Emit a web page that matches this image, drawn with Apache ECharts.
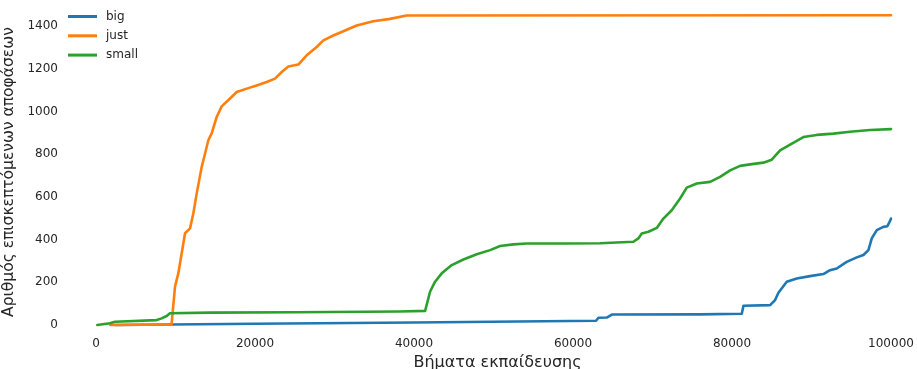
<!DOCTYPE html>
<html>
<head>
<meta charset="utf-8">
<script src="https://cdn.jsdelivr.net/npm/echarts@6/dist/echarts.min.js"></script>
<style>html,body{margin:0;padding:0;background:#fff;}#c{width:917px;height:369px;}</style>
</head>
<body>
<div id="c"></div>
<script>
const seriesNames = ['big', 'just', 'small'];
const xTicks = [0, 20000, 40000, 60000, 80000, 100000];
const yTicks = [0, 200, 400, 600, 800, 1000, 1200, 1400];

const bigSteps = [2400, 20000, 40000, 62900, 63200, 64250, 64880, 76000, 81230, 81440, 84790, 85420, 85840, 86890, 88140, 89820, 91490, 92330, 93170, 94430, 95690, 96530, 97160, 97580, 98210, 99040, 99540, 99880, 100000];
const bigValues = [0, 6, 12, 20, 34, 35, 49, 50, 53, 90, 93, 117, 151, 203, 218, 229, 239, 257, 265, 296, 317, 328, 351, 406, 445, 460, 463, 488, 499];

const justSteps = [1800, 9500, 9940, 10360, 10780, 11200, 11830, 12240, 12670, 13290, 13710, 14130, 14550, 15180, 15810, 16860, 17700, 18960, 20210, 21470, 22520, 23360, 24200, 25450, 26500, 27760, 28600, 29850, 31110, 32790, 34880, 36980, 39080, 100000];
const justValues = [0, 2, 180, 243, 336, 430, 453, 523, 617, 740, 803, 866, 898, 975, 1025, 1062, 1092, 1108, 1123, 1139, 1155, 1186, 1212, 1221, 1264, 1303, 1334, 1357, 1377, 1404, 1424, 1435, 1451, 1452];

const smallSteps = [160, 1760, 2390, 7630, 8260, 8890, 9300, 14340, 25000, 38240, 41400, 42020, 42650, 43490, 44750, 46210, 47890, 49570, 50830, 52500, 54180, 59220, 63400, 67600, 68220, 68650, 69490, 70540, 71370, 72420, 73470, 74310, 75570, 77240, 78500, 79760, 81020, 82270, 83950, 85000, 86050, 87310, 88980, 90660, 92760, 94850, 97370, 100000];
const smallValues = [0, 8, 15, 23, 31, 42, 55, 58, 60, 63, 66, 156, 203, 242, 281, 307, 332, 351, 370, 378, 382, 382, 383, 390, 406, 429, 437, 455, 499, 538, 593, 644, 663, 671, 694, 725, 746, 753, 761, 775, 819, 846, 881, 891, 897, 906, 914, 918];

const colors = ['#1f77b4', '#ff7f0e', '#2ca02c'];
const stepsList = [bigSteps, justSteps, smallSteps];
const valuesList = [bigValues, justValues, smallValues];

const chart = echarts.init(document.getElementById('c'), null, {renderer: 'canvas'});
const textColor = '#262626';
const font = 'DejaVu Sans';

chart.setOption({
  animation: false,
  backgroundColor: '#ffffff',
  textStyle: {fontFamily: font},
  grid: {left: 96, right: 26, top: 5, bottom: 44, containLabel: false, outerBoundsMode: 'none'},
  legend: {
    data: seriesNames,
    orient: 'vertical',
    left: 63,
    top: 5.5,
    icon: 'rect',
    itemWidth: 29,
    itemHeight: 3,
    itemGap: 7.3,
    textStyle: {fontFamily: font, fontSize: 12, color: textColor, padding: [0, 0, 0, 4]}
  },
  xAxis: {
    type: 'value',
    min: xTicks[0],
    max: xTicks[xTicks.length - 1],
    interval: xTicks[1] - xTicks[0],
    axisLine: {show: false},
    axisTick: {show: false},
    splitLine: {show: false},
    axisLabel: {fontFamily: font, fontSize: 12, color: textColor, margin: 13, formatter: v => String(v)},
    name: 'Βήματα εκπαίδευσης',
    nameLocation: 'middle',
    nameGap: 28,
    nameTextStyle: {fontFamily: font, fontSize: 16, color: textColor, padding: [0, 0, 0, 8]}
  },
  yAxis: {
    type: 'value',
    min: yTicks[0],
    max: 1500,
    interval: yTicks[1] - yTicks[0],
    axisLine: {show: false},
    axisTick: {show: false},
    splitLine: {show: false},
    axisLabel: {
      fontFamily: font, fontSize: 12, color: textColor, margin: 38,
      formatter: v => (yTicks.indexOf(v) >= 0 ? String(v) : '')
    },
    name: 'Αριθμός επισκεπτόμενων αποφάσεων',
    nameLocation: 'middle',
    nameGap: 72,
    nameTextStyle: {fontFamily: font, fontSize: 15.5, color: textColor, padding: [0, 14, 0, 0]}
  },
  series: seriesNames.map((n, i) => ({
    name: n,
    type: 'line',
    data: stepsList[i].map((s, j) => [s, valuesList[i][j]]),
    showSymbol: false,
    symbol: 'none',
    clip: false,
    color: colors[i],
    lineStyle: {width: 2.6, color: colors[i], cap: 'round', join: 'round'},
    itemStyle: {color: colors[i]}
  }))
});
</script>
</body>
</html>
